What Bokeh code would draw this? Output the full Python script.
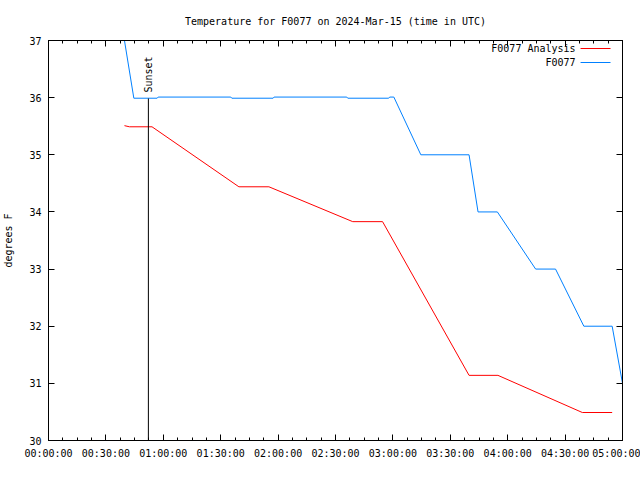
from bokeh.plotting import figure
from bokeh.models import FixedTicker, Range1d, LinearAxis, Label
from bokeh.embed import file_html
from bokeh.resources import INLINE

# ---- data (minutes after 00:00 UTC, degrees F) ----
analysis_min = [39.7, 42.3, 54.1, 99.5, 115.2, 159.0, 174.6, 219.8, 234.9, 279.0, 294.6]
analysis_f = [35.51, 35.49, 35.49, 34.44, 34.44, 33.83, 33.83, 31.14, 31.14, 30.49, 30.49]

obs_min = [39.7, 44.6, 56.8, 57.3, 95.3, 95.8, 117.4, 117.9, 155.9, 156.4, 177.8, 178.3,
           180.5, 194.6, 219.8, 224.5, 234.6, 254.6, 265.0, 279.8, 294.6, 300.0]
obs_f = [37.0, 35.99, 35.99, 36.01, 36.01, 35.99, 35.99, 36.01, 36.01, 35.99, 35.99, 36.01,
         36.01, 35.0, 35.0, 34.0, 34.0, 33.0, 33.0, 32.0, 32.0, 31.0]

sunset_min = 52.2

x_tick_min = [0, 30, 60, 90, 120, 150, 180, 210, 240, 270, 300]
x_tick_labels = ["00:00:00", "00:30:00", "01:00:00", "01:30:00", "02:00:00", "02:30:00",
                 "03:00:00", "03:30:00", "04:00:00", "04:30:00", "05:00:00"]
x_minor_min = [m * 7.5 for m in range(41)]
y_ticks = [30, 31, 32, 33, 34, 35, 36, 37]

series_names = ["F0077 Analysis", "F0077"]
series_colors = ["#ff0000", "#0080ff"]

FONT = "DejaVu Sans Mono"
FS = "10px"

X0, X1, Y0, Y1 = 0, 300, 30, 37
FL, FR, FT, FB = 47, 622, 40, 440  # frame pixel box


def px_x(px):
    return X0 + (px - FL) / (FR - FL) * (X1 - X0)


def px_y(py):
    return Y1 - (py - FT) / (FB - FT) * (Y1 - Y0)


p = figure(width=640, height=480, output_backend="svg", toolbar_location=None,
           x_range=Range1d(X0, X1), y_range=Range1d(Y0, Y1),
           min_border_left=FL, min_border_right=640 - FR,
           min_border_top=FT, min_border_bottom=480 - FB,
           title="Temperature for F0077 on 2024-Mar-15 (time in UTC)")
p.xgrid.visible = False
p.ygrid.visible = False
p.outline_line_color = "black"
p.outline_line_width = 1
p.background_fill_color = "white"
p.border_fill_color = "white"

p.title.text_font = FONT
p.title.text_font_size = FS
p.title.text_font_style = "normal"
p.title.text_color = "black"
p.title.align = "center"
p.title.standoff = 27

xt = FixedTicker(ticks=x_tick_min, minor_ticks=x_minor_min)
yt = FixedTicker(ticks=y_ticks, minor_ticks=[])

p.xaxis.ticker = xt
p.xaxis.major_label_overrides = {t: l for t, l in zip(x_tick_min, x_tick_labels)}
p.yaxis.ticker = yt
p.yaxis.axis_label = "degrees F"

for ax in [p.xaxis[0], p.yaxis[0]]:
    ax.axis_line_color = "black"
    ax.major_tick_line_color = "black"
    ax.minor_tick_line_color = "black"
    ax.major_tick_in = 6
    ax.major_tick_out = 0
    ax.minor_tick_in = 3
    ax.minor_tick_out = 0
    ax.major_label_text_font = FONT
    ax.major_label_text_font_size = FS
    ax.major_label_text_color = "black"
    ax.axis_label_text_font = FONT
    ax.axis_label_text_font_size = FS
    ax.axis_label_text_font_style = "normal"
    ax.axis_label_text_color = "black"
p.xaxis.major_label_standoff = 7
p.yaxis.major_label_standoff = 7
p.yaxis.axis_label_standoff = 12

# mirror axes (ticks only)
top = LinearAxis(ticker=xt)
right = LinearAxis(ticker=yt)
for ax in [top, right]:
    ax.axis_line_color = "black"
    ax.major_tick_line_color = "black"
    ax.minor_tick_line_color = "black"
    ax.major_tick_in = 6
    ax.major_tick_out = 0
    ax.minor_tick_in = 3
    ax.minor_tick_out = 0
    ax.major_label_text_font_size = "1px"
    ax.major_label_text_color = None
    ax.major_label_standoff = 0
p.add_layout(top, "above")
p.add_layout(right, "right")

# data lines
p.line(analysis_min, analysis_f, line_color=series_colors[0], line_width=1)
p.line(obs_min, obs_f, line_color=series_colors[1], line_width=1)

# sunset marker
p.segment(x0=[sunset_min], y0=[Y0], x1=[sunset_min], y1=[px_y(98)], line_color="black", line_width=1)
p.add_layout(Label(x=sunset_min, y=px_y(92), text="Sunset", angle=1.5708, angle_units="rad",
                   text_align="left", text_baseline="middle", text_font=FONT,
                   text_font_size=FS, text_color="black"))

# legend (text, then line sample on the right)
for i, (name, col) in enumerate(zip(series_names, series_colors)):
    yy = px_y(48 + 14 * i)
    p.add_layout(Label(x=px_x(575), y=yy, text=name, text_align="right",
                       text_baseline="middle", text_font=FONT, text_font_size=FS,
                       text_color="black"))
    p.segment(x0=[px_x(580)], y0=[yy], x1=[px_x(610)], y1=[yy], line_color=col, line_width=1)

open("out.html", "w").write(file_html(p, INLINE))
